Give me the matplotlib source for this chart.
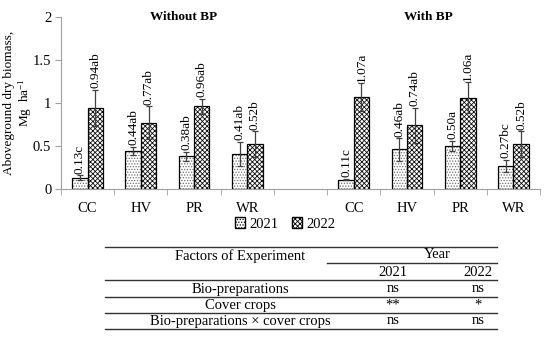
import matplotlib
matplotlib.use("Agg")
import matplotlib.pyplot as plt
from matplotlib.lines import Line2D
import numpy as np

plt.rcParams['font.family'] = ['Liberation Serif', 'DejaVu Serif']
plt.rcParams['mathtext.default'] = 'regular'
plt.rcParams['hatch.linewidth'] = 0.6

# data
cats = ["CC", "HV", "PR", "WR", "", "CC", "HV", "PR", "WR"]
v2021 = [0.13, 0.44, 0.38, 0.41, np.nan, 0.11, 0.46, 0.50, 0.27]
v2022 = [0.94, 0.77, 0.96, 0.52, np.nan, 1.07, 0.74, 1.06, 0.52]
e2021 = [0.03, 0.05, 0.05, 0.14, np.nan, 0.01, 0.13, 0.06, 0.07]
e2022 = [0.21, 0.19, 0.09, 0.15, np.nan, 0.16, 0.20, 0.18, 0.15]
lab2021 = ["0.13c", "0.44ab", "0.38ab", "0.41ab", "", "0.11c", "0.46ab", "0.50a", "0.27bc"]
lab2022 = ["0.94ab", "0.77ab", "0.96ab", "0.52b", "", "1.07a", "0.74ab", "1.06a", "0.52b"]
groups = ["Without BP", "With BP"]

tab_factors = ["Bio-preparations", "Cover crops", "Bio-preparations × cover crops"]
tab_2021 = ["ns", "**", "ns"]
tab_2022 = ["ns", "*", "ns"]

W, H = 550, 337
fig = plt.figure(figsize=(5.5, 3.37), dpi=100)
ax = fig.add_axes([61/W, 1-189/H, 479/W, 172/H])

x = np.arange(len(cats))
w = 0.29
# hatch fill first (grey), then black outline on top
ax.bar(x - w/2, v2021, w, color='white', edgecolor='#707070', hatch='......', linewidth=0)
ax.bar(x + w/2, v2022, w, color='white', edgecolor='#101010', hatch='xxxxxxx', linewidth=0)
ax.bar(x - w/2, v2021, w, fill=False, edgecolor='black', linewidth=0.9)
ax.bar(x + w/2, v2022, w, fill=False, edgecolor='black', linewidth=0.9)
ax.errorbar(x - w/2, v2021, yerr=e2021, fmt='none', ecolor='#404040', elinewidth=0.9, capsize=2.5, capthick=0.9)
ax.errorbar(x + w/2, v2022, yerr=e2022, fmt='none', ecolor='#404040', elinewidth=0.9, capsize=2.5, capthick=0.9)

for i in range(len(cats)):
    if lab2021[i]:
        ax.text(x[i] - w/2, v2021[i] + e2021[i] + 0.02, lab2021[i], rotation=90,
                ha='center', va='bottom', fontsize=9.5)
        ax.text(x[i] + w/2, v2022[i] + e2022[i] + 0.02, lab2022[i], rotation=90,
                ha='center', va='bottom', fontsize=9.5)

ax.text(1.8, 2.0, groups[0], ha='center', va='center', fontsize=9.5, fontweight='bold')
ax.text(6.4, 2.0, groups[1], ha='center', va='center', fontsize=9.5, fontweight='bold')

ax.set_xlim(-0.5, 8.5)
ax.set_ylim(0, 2)
ax.set_yticks([0, 0.5, 1, 1.5, 2])
ax.set_yticklabels(["0", "0.5", "1", "1.5", "2"])
ax.set_xticks(x)
ax.set_xticklabels(cats)
ax.set_xticks(np.arange(-0.5, 9, 1), minor=True)
ax.tick_params(axis='x', which='major', length=0, pad=9, labelsize=10.5)
ax.tick_params(axis='x', which='minor', length=4, color='#a0a0a0', direction='out')
ax.tick_params(axis='y', length=4, color='#a0a0a0', labelsize=10.5, pad=3)
for s in ['top', 'right']:
    ax.spines[s].set_visible(False)
ax.spines['left'].set_color('#a0a0a0')
ax.spines['bottom'].set_color('#a0a0a0')
ax.set_ylabel("Aboveground dry biomass,\nMg  ha$^{-1}$", fontsize=9.5, linespacing=1.15)
ax.yaxis.set_label_coords(-0.056, 0.5)

leg = fig.legend(loc='center', bbox_to_anchor=(285/W, 1-224/H), ncol=2, frameon=False,
                 fontsize=10.5, handlelength=0.7, handleheight=0.7, handletextpad=0.3,
                 columnspacing=0.9,
                 handles=[plt.Rectangle((0, 0), 1, 1, facecolor='white', edgecolor='black', hatch='......'),
                          plt.Rectangle((0, 0), 1, 1, facecolor='white', edgecolor='black', hatch='xxxxxxx')],
                 labels=['2021', '2022'])

# table
def fy(py):
    return 1 - py/H

def fx(px):
    return px/W

for py, x0 in [(247, 105), (263, 327), (280, 105), (297, 105), (313, 105), (329, 105)]:
    fig.add_artist(Line2D([fx(x0), fx(497)], [fy(py), fy(py)], color='#333333', linewidth=1.0))

fig.text(fx(240), fy(256), "Factors of Experiment", ha='center', va='center', fontsize=10.5)
fig.text(fx(437), fy(255), "Year", ha='center', va='center', fontsize=10.5)
fig.text(fx(393), fy(272), "2021", ha='center', va='center', fontsize=10.5)
fig.text(fx(478), fy(272), "2022", ha='center', va='center', fontsize=10.5)
rows_y = [289, 305, 321]
for k in range(3):
    fig.text(fx(240), fy(rows_y[k]), tab_factors[k], ha='center', va='center', fontsize=10.5)
    fig.text(fx(393), fy(rows_y[k]), tab_2021[k], ha='center', va='center', fontsize=10.5)
    fig.text(fx(478), fy(rows_y[k]), tab_2022[k], ha='center', va='center', fontsize=10.5)

fig.savefig("out.png", dpi=100)
